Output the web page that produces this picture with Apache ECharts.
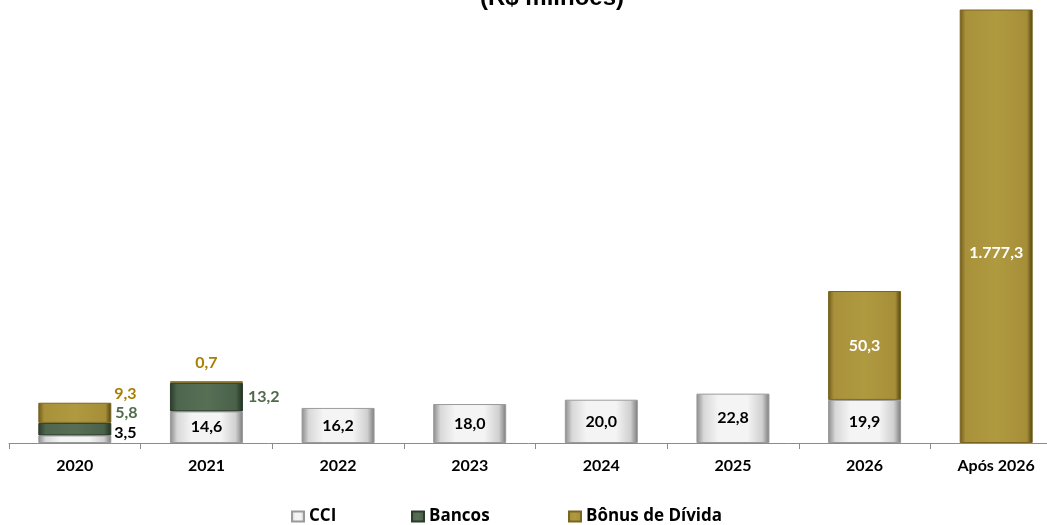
<!DOCTYPE html>
<html>
<head>
<meta charset="utf-8">
<script src="https://cdn.jsdelivr.net/npm/echarts@6/dist/echarts.min.js"></script>
<style>html,body{margin:0;padding:0;background:#fff;}#c{width:1047px;height:525px;}</style>
</head>
<body>
<div id="c"></div>
<script>
var categories = ['2020','2021','2022','2023','2024','2025','2026','Após 2026'];
var cciValues = [3.5, 14.6, 16.2, 18.0, 20.0, 22.8, 19.9, null];
var bancosValues = [5.8, 13.2, null, null, null, null, null, null];
var bonusValues = [9.3, 0.7, null, null, null, null, 50.3, 1777.3];
var seriesNames = ['CCI', 'Bancos', 'Bônus de Dívida'];

function fmt(v) {
  var parts = v.toFixed(1).split('.');
  var intPart = parts[0].replace(/\B(?=(\d{3})+(?!\d))/g, '.');
  return intPart + ',' + parts[1];
}
var FONT = 'Lato, "Open Sans", sans-serif';
function hGrad(stops) {
  return new echarts.graphic.LinearGradient(0, 0, 1, 0, stops.map(function (s) { return { offset: s[0], color: s[1] }; }));
}
var cciColor = hGrad([[0, '#8a8a8a'], [0.1, '#d8d8d8'], [0.3, '#f4f4f4'], [0.7, '#f4f4f4'], [0.9, '#d0d0d0'], [1, '#7a7a7a']]);
var bancosColor = hGrad([[0, '#2a3a2a'], [0.1, '#4e664e'], [0.5, '#566f55'], [0.9, '#4a624a'], [1, '#223022']]);
var bonusColor = hGrad([[0, '#6e5a1a'], [0.08, '#a8913a'], [0.5, '#b09a40'], [0.92, '#a58e38'], [1, '#4e400e']]);

var lbl = function (extra) {
  var base = { show: true, fontFamily: FONT, fontWeight: 'bold', fontSize: 16,
    formatter: function (p) { return fmt(p.value); } };
  for (var k in extra) base[k] = extra[k];
  return base;
};

var cciData = cciValues.map(function (v, i) {
  if (v == null) return null;
  var item = { value: v };
  if (i === 0) item.label = lbl({ position: 'right', color: '#000', offset: [-2, -6] });
  return item;
});
var bancosData = bancosValues.map(function (v, i) {
  if (v == null) return null;
  var item = { value: v };
  if (i === 0) item.label = lbl({ position: 'right', color: '#4f6b4a', offset: [-1, -16] });
  else item.label = lbl({ position: 'right', color: '#4f6b4a', offset: [0, 0] });
  return item;
});
var bonusData = bonusValues.map(function (v, i) {
  if (v == null) return null;
  var item = { value: v };
  if (i === 0) item.label = lbl({ position: 'right', color: '#a87f00', offset: [-2, -19] });
  else if (i === 1) item.label = lbl({ position: 'top', color: '#a87f00', offset: [0, -5] });
  else if (i === 7) item.label = lbl({ position: 'inside', color: '#fff', offset: [0, 27] });
  else item.label = lbl({ position: 'inside', color: '#fff' });
  return item;
});

var chart = echarts.init(document.getElementById('c'), null, { renderer: 'canvas' });
var legendBase = { top: 503, icon: 'rect', itemWidth: 12, itemHeight: 10, itemGap: 4,
  textStyle: { fontFamily: '"Open Sans", sans-serif', fontWeight: 'bold', fontSize: 17, color: '#000' } };
function legendAt(left, name) {
  var o = {}; for (var k in legendBase) o[k] = legendBase[k];
  o.left = left; o.data = [name]; return o;
}
chart.setOption({
  animation: false,
  backgroundColor: '#fff',
  graphic: [{
    type: 'text', x: 552, y: 10,
    style: { text: '(R$ milhões)', font: 'bold 24px "Liberation Sans", Arial, sans-serif', fill: '#000',
      textAlign: 'center', textVerticalAlign: 'bottom' }
  }],
  legend: [legendAt(286, seriesNames[0]), legendAt(406, seriesNames[1]), legendAt(563, seriesNames[2])],
  grid: { left: 9, top: 10, width: 1053, height: 433, containLabel: false, outerBoundsMode: 'none' },
  xAxis: {
    type: 'category', data: categories,
    axisLine: { lineStyle: { color: '#8c8c8c', width: 1 } },
    axisTick: { show: true, length: 6, lineStyle: { color: '#8c8c8c' } },
    axisLabel: { margin: 15, fontFamily: FONT, fontWeight: 'bold', fontSize: 16, color: '#000' }
  },
  yAxis: { type: 'value', min: 0, max: 200, show: false, splitLine: { show: false } },
  series: [
    { name: seriesNames[0], type: 'bar', stack: 's', barWidth: 73, clip: true, data: cciData,
      itemStyle: { color: cciColor, borderColor: '#9a9a9a', borderWidth: 1 },
      label: lbl({ position: 'inside', color: '#000' }) },
    { name: seriesNames[1], type: 'bar', stack: 's', barWidth: 73, clip: true, data: bancosData,
      itemStyle: { color: bancosColor, borderColor: '#2c3a2c', borderWidth: 1 } },
    { name: seriesNames[2], type: 'bar', stack: 's', barWidth: 73, clip: true, data: bonusData,
      itemStyle: { color: bonusColor, borderColor: '#7a6520', borderWidth: 1 } }
  ]
});
</script>
</body>
</html>
